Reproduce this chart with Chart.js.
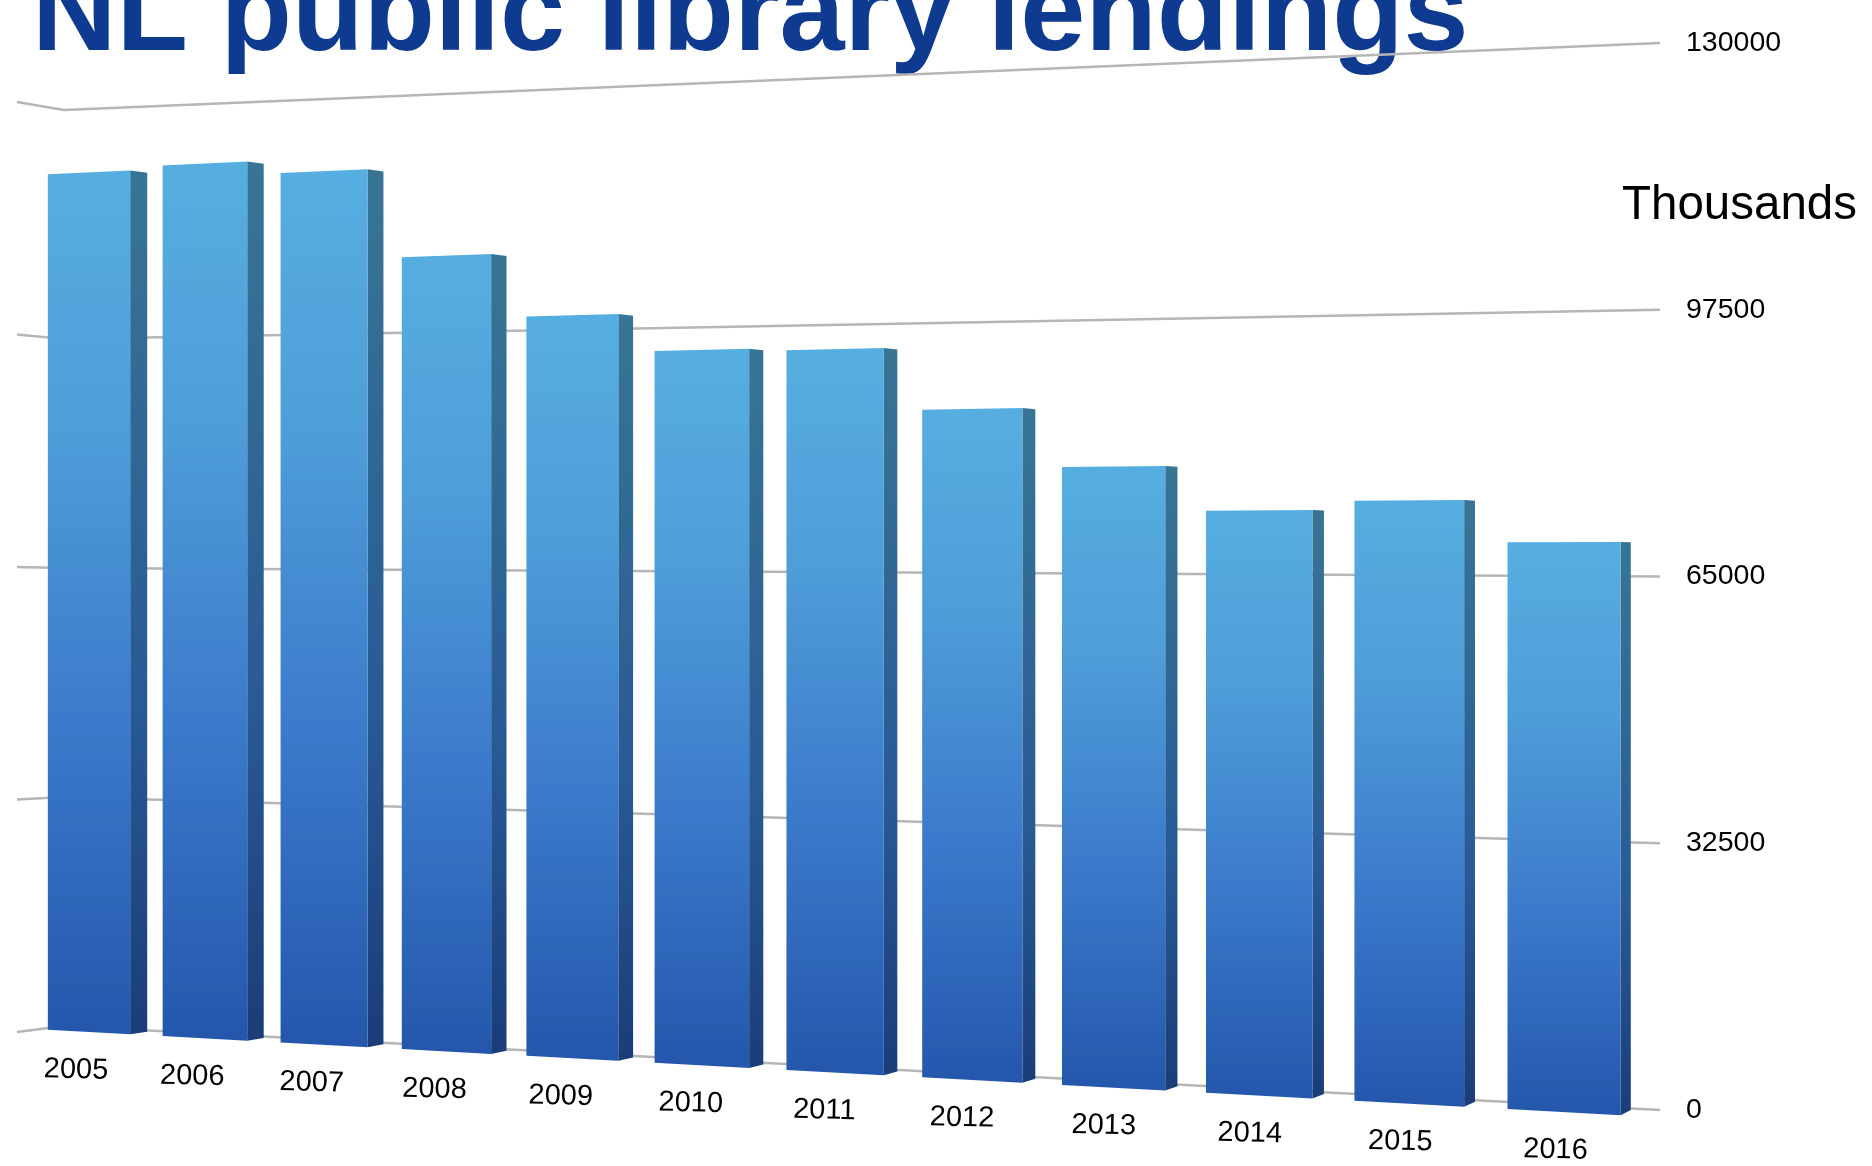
<!DOCTYPE html>
<html>
<head>
<meta charset="utf-8">
<title>NL public library lendings</title>
<script src="https://cdn.jsdelivr.net/npm/chart.js@4"></script>
<style>
  html, body { margin: 0; padding: 0; background: #fff; overflow: hidden; }
  canvas { display: block; }
</style>
</head>
<body>
<canvas id="lendingsChart" width="1872" height="1166"></canvas>
<script>
// lendings per year, in thousands
const years = ['2005', '2006', '2007', '2008', '2009', '2010', '2011', '2012', '2013', '2014', '2015', '2016'];
const lendings = [120400, 120900, 119100, 107000, 98500, 93500, 93200, 85200, 77700, 72100, 73200, 68100];
const valueTicks = [0, 32500, 65000, 97500, 130000];

const titleText = 'NL public library lendings';
const unitText = 'Thousands';

// the front plane of the bars, trapezoid with vertical sides
const front = { x0: 32, x1: 1643, top0: 107, top1: 19.6, bot0: 1029, bot1: 1116.4 };
// back wall the grid lines sit on, plus the short side wall on the left
const wall = { x0: 64, top0: 110, bot0: 1026, sideX: 17, sideTop: 102, sideBot: 1032 };
const horizonY = 568;

const font = "'Liberation Sans', Arial, sans-serif";

const lerp = (a, b, t) => a + (b - a) * t;

// perspective correct map from the flat chart area to the front plane
function project(area, px, py) {
  const u = (px - area.left) / (area.right - area.left);
  const v = (py - area.top) / (area.bottom - area.top);
  const h0 = front.bot0 - front.top0;
  const h1 = front.bot1 - front.top1;
  const t = u * h0 / ((1 - u) * h1 + u * h0);
  return {
    u: t,
    x: lerp(front.x0, front.x1, t),
    y: lerp(lerp(front.top0, front.top1, t), lerp(front.bot0, front.bot1, t), v)
  };
}

// rear edge of a bar's side face
function rear(p) {
  const s = lerp(0.005, 0.0095, p.u);
  return { x: p.x + lerp(17.5, 10, p.u), y: p.y + (horizonY - p.y) * s };
}

function polygon(ctx, pts, fill) {
  ctx.beginPath();
  pts.forEach((p, i) => i ? ctx.lineTo(p.x, p.y) : ctx.moveTo(p.x, p.y));
  ctx.closePath();
  ctx.fillStyle = fill;
  ctx.fill();
}

function barGradient(ctx, top, bottom, stops) {
  const g = ctx.createLinearGradient(0, top, 0, bottom);
  stops.forEach(s => g.addColorStop(s[0], s[1]));
  return g;
}

const perspectiveBars = {
  id: 'perspectiveBars',
  beforeDraw(chart) {
    const ctx = chart.ctx;
    ctx.save();
    ctx.font = 'bold 117px ' + font;
    ctx.fillStyle = '#0E3A8F';
    ctx.textAlign = 'left';
    ctx.textBaseline = 'alphabetic';
    ctx.fillText(titleText, 32, 49.5);
    ctx.restore();
  },
  beforeDatasetsDraw(chart) {
    const ctx = chart.ctx;
    const area = chart.chartArea;
    const xScale = chart.scales.x;
    const yScale = chart.scales.y;

    // grid lines, bent where the side wall meets the back wall
    ctx.save();
    ctx.strokeStyle = '#B6B6B6';
    ctx.lineWidth = 2.5;
    valueTicks.forEach(value => {
      const py = yScale.getPixelForValue(value);
      const v = (py - area.top) / (area.bottom - area.top);
      ctx.beginPath();
      ctx.moveTo(wall.sideX, lerp(wall.sideTop, wall.sideBot, v));
      ctx.lineTo(wall.x0, lerp(wall.top0, wall.bot0, v));
      ctx.lineTo(area.right, py);
      ctx.stroke();
    });
    ctx.restore();

    const bars = chart.getDatasetMeta(0).data;
    bars.forEach((bar, i) => {
      const half = bar.width / 2;
      const tl = project(area, bar.x - half, bar.y);
      const tr = project(area, bar.x + half, bar.y);
      const br = project(area, bar.x + half, bar.base);
      const bl = project(area, bar.x - half, bar.base);

      polygon(ctx, [tr, rear(tr), rear(br), br], barGradient(ctx, tr.y, br.y, [
        [0, '#387594'], [0.62, '#285A96'], [1, '#1A3D78']
      ]));
      polygon(ctx, [tl, tr, br, bl], barGradient(ctx, tl.y, br.y, [
        [0, '#56AEE0'], [0.3, '#4E9DD8'], [0.63, '#3C7BCB'], [1, '#2457AB']
      ]));

      // year labels follow the floor of the chart
      const c = project(area, bar.x, yScale.getPixelForValue(0));
      ctx.save();
      ctx.translate(c.x + lerp(-13, -8, c.u), c.y + 38);
      ctx.rotate(1.3 * Math.PI / 180);
      ctx.font = '29px ' + font;
      ctx.fillStyle = '#000';
      ctx.textAlign = 'center';
      ctx.textBaseline = 'middle';
      ctx.fillText(xScale.getLabelForValue(i), 0, 0);
      ctx.restore();
    });

    ctx.save();
    ctx.font = '47.5px ' + font;
    ctx.fillStyle = '#000';
    ctx.textBaseline = 'alphabetic';
    ctx.fillText(unitText, 1622, 219);
    ctx.restore();

    // bars are already painted above
    return false;
  }
};

const ctx = document.getElementById('lendingsChart').getContext('2d');
const lendingsChart = new Chart(ctx, {
  type: 'bar',
  data: {
    labels: years,
    datasets: [{
      label: 'Lendings',
      data: lendings,
      backgroundColor: '#3C7BCB',
      barPercentage: 0.72,
      categoryPercentage: 1
    }]
  },
  options: {
    responsive: false,
    animation: false,
    layout: { padding: { top: 22, bottom: 56, left: 0, right: 0 } },
    plugins: {
      legend: { display: false },
      tooltip: { enabled: false }
    },
    scales: {
      x: {
        display: false
      },
      y: {
        position: 'right',
        min: 0,
        max: 130000,
        afterBuildTicks(scale) {
          scale.ticks = valueTicks.map(value => ({ value: value }));
        },
        afterFit(scale) {
          scale.width = 212;
        },
        grid: { display: false, drawTicks: false },
        border: { display: false },
        ticks: {
          padding: 26,
          color: '#000',
          font: { family: font, size: 28.5 },
          callback: value => String(value)
        }
      }
    }
  },
  plugins: [perspectiveBars]
});
</script>
</body>
</html>
